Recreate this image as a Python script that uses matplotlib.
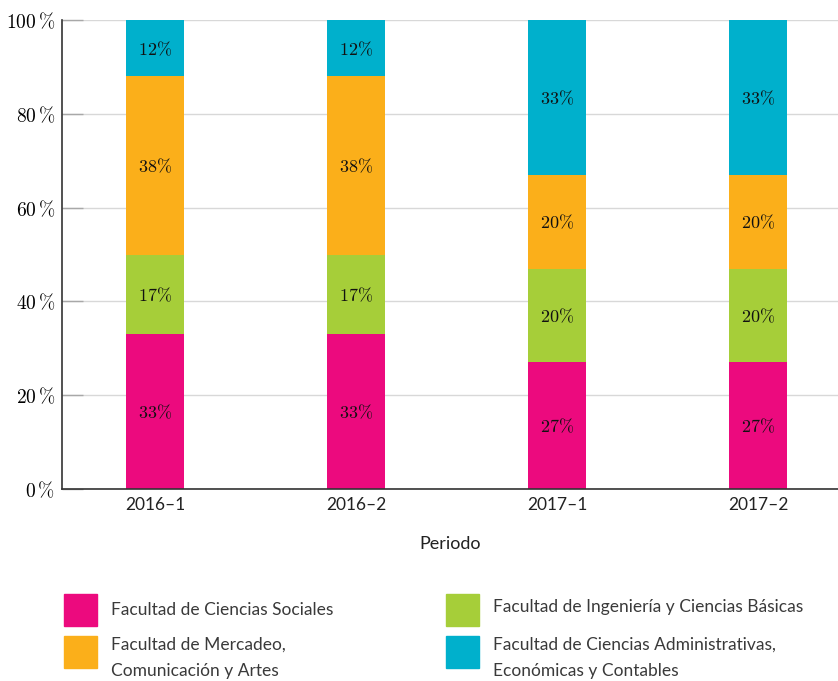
import matplotlib
matplotlib.use("Agg")
import matplotlib.pyplot as plt
from matplotlib.patches import Rectangle
import numpy as np

plt.rcParams["mathtext.fontset"] = "cm"

periods = ["2016\u20131", "2016\u20132", "2017\u20131", "2017\u20132"]
faculties = [
    "Facultad de Ciencias Sociales",
    "Facultad de Ingeniería y Ciencias Básicas",
    "Facultad de Mercadeo,\nComunicación y Artes",
    "Facultad de Ciencias Administrativas,\nEconómicas y Contables",
]
sociales = [33, 33, 27, 27]
ingenieria = [17, 17, 20, 20]
mercadeo = [38, 38, 20, 20]
administrativas = [12, 12, 33, 33]
series = [sociales, ingenieria, mercadeo, administrativas]
colors = ["#EC0A7E", "#A6CE39", "#FBAF1A", "#00B0CC"]
y_ticks = [0, 20, 40, 60, 80, 100]

fig = plt.figure(figsize=(8.38, 6.81), dpi=100)
ax = fig.add_axes([62 / 838, 1 - 489 / 681, 776 / 838, 469 / 681])

x = np.arange(len(periods))
bottom = np.zeros(len(periods))
for vals, col in zip(series, colors):
    vals = np.array(vals, dtype=float)
    ax.bar(x, vals, width=0.29, bottom=bottom, color=col, zorder=2)
    for xi, b, v in zip(x, bottom, vals):
        ax.text(xi, b + v / 2 - 0.3, r"$%d\%%$" % v, ha="center", va="center",
                fontsize=13, color="#111111", zorder=3)
    bottom += vals

ax.set_xlim(-0.463, 3.398)
ax.set_ylim(0, 100)
ax.set_yticks(y_ticks)
ax.set_yticklabels([r"$%d\,\%%$" % t for t in y_ticks], fontsize=14)
ax.set_xticks(x)
ax.set_xticklabels(periods, fontsize=12.5, fontfamily="Lato", color="#222222")
ax.grid(axis="y", color="#d8d8d8", linewidth=1.0, zorder=0)
ax.set_axisbelow(True)
for s in ["top", "right"]:
    ax.spines[s].set_visible(False)
ax.spines["left"].set_color("#333333")
ax.spines["bottom"].set_color("#333333")
ax.spines["left"].set_linewidth(1.2)
ax.spines["bottom"].set_linewidth(1.2)
ax.tick_params(axis="y", direction="in", length=15, color="#a8a8a8", width=1.0, pad=5)
ax.tick_params(axis="x", length=0, pad=6)
ax.set_xlabel("Periodo", fontsize=13, fontfamily="Lato", color="#222222", labelpad=16)

# legend drawn in figure pixels
W, H = 838, 681
legend_items = [
    (faculties[0], colors[0], 64, 594, 610),
    (faculties[2], colors[2], 64, 636, 658),
    (faculties[1], colors[1], 446, 594, 607),
    (faculties[3], colors[3], 446, 636, 658),
]
for label, col, px, py, ty in legend_items:
    fig.patches.append(Rectangle((px / W, 1 - (py + 32) / H), 33 / W, 32 / H,
                                 transform=fig.transFigure, color=col))
    fig.text((px + 47) / W, 1 - ty / H, label, ha="left", va="center",
             fontsize=12.5, fontfamily="Lato", color="#3a3a3a", linespacing=1.8)

fig.savefig("out.png", dpi=100)
